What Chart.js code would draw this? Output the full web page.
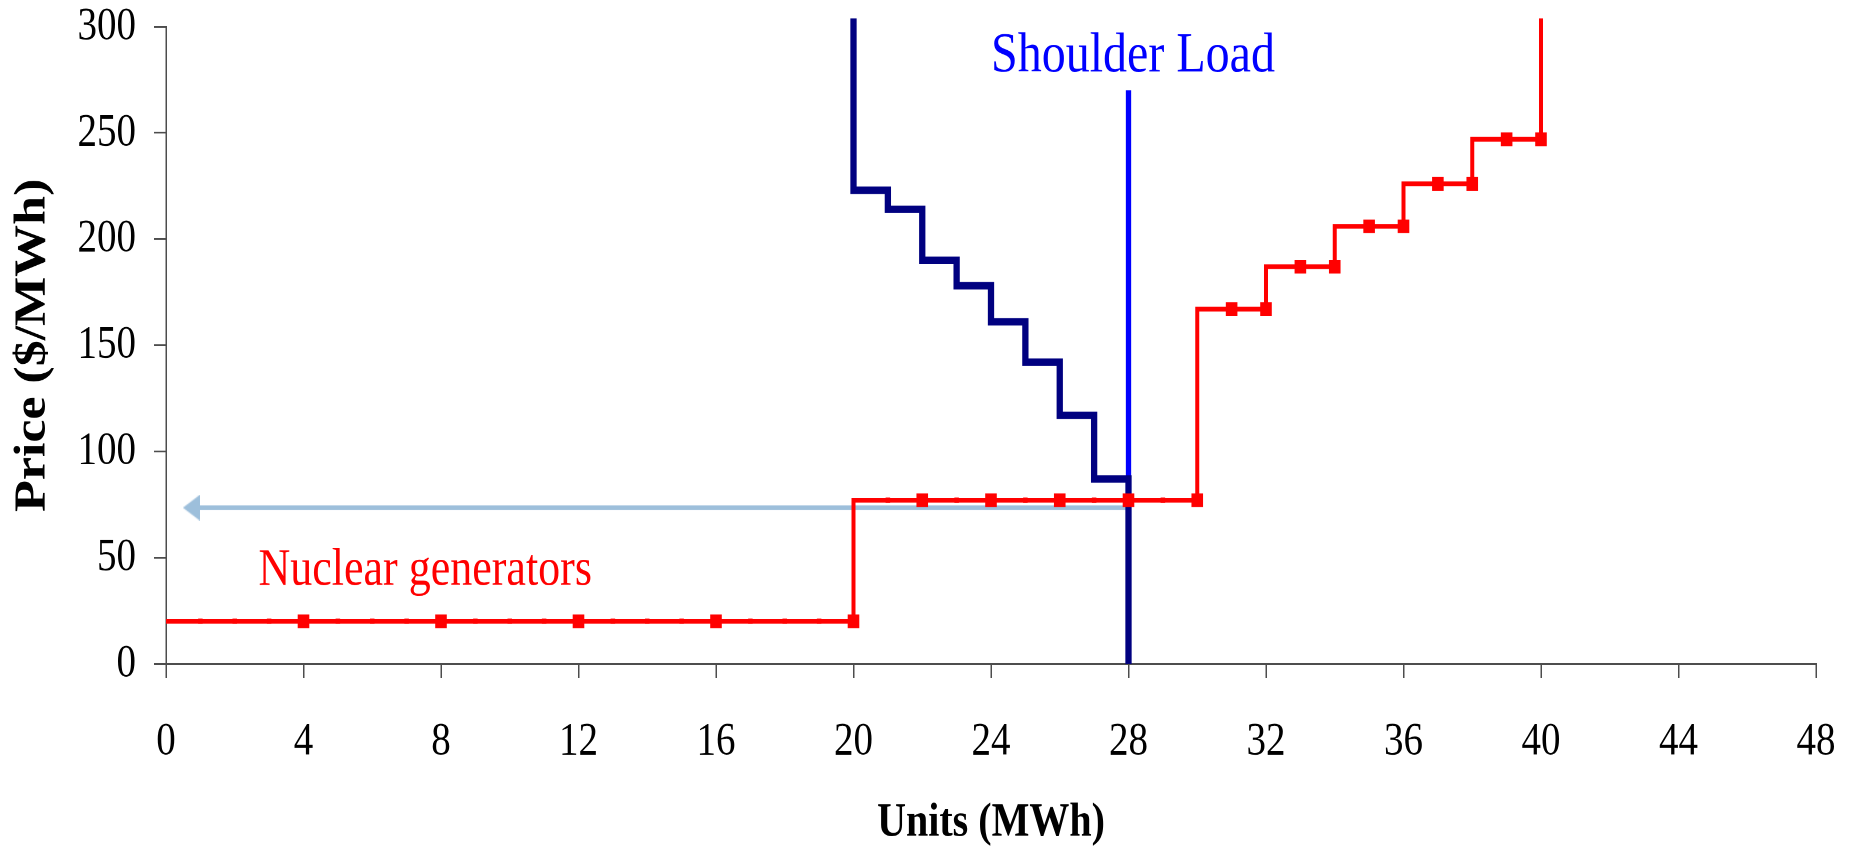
<!DOCTYPE html>
<html>
<head>
<meta charset="utf-8">
<title>Shoulder load dispatch</title>
<script src="https://cdn.jsdelivr.net/npm/chart.js@4.4.1/dist/chart.umd.min.js"></script>
<style>
  html, body { margin: 0; padding: 0; background: #fff; width: 1852px; height: 848px; overflow: hidden; }
  #page { position: relative; width: 1852px; height: 848px; overflow: hidden; }
  /* the reference picture is stretched vertically, so draw 718 high and scale to 848 */
  #wrap { position: absolute; left: 0; top: 0; width: 1852px; height: 718px; transform: scaleY(1.18106); transform-origin: 0 0; }
</style>
</head>
<body>
<div id="page"><div id="wrap"><canvas id="chart"></canvas></div></div>
<script>
// axis ticks
const xTicks = [0, 4, 8, 12, 16, 20, 24, 28, 32, 36, 40, 44, 48];
const yTicks = [0, 50, 100, 150, 200, 250, 300];

// supply curve (red), one point per MWh, last point runs off the top
const supplyUnits = [0, 1, 2, 3, 4, 5, 6, 7, 8, 9, 10, 11, 12, 13, 14, 15, 16, 17, 18, 19, 20,
  21, 22, 23, 24, 25, 26, 27, 28, 29, 30, 31, 32, 33, 34, 35, 36, 37, 38, 39, 40, 40];
const supplyPrice = [20, 20, 20, 20, 20, 20, 20, 20, 20, 20, 20, 20, 20, 20, 20, 20, 20, 20, 20, 20, 20,
  77, 77, 77, 77, 77, 77, 77, 77, 77, 77, 167, 167, 187, 187, 206, 206, 226, 226, 247, 247, 400];
// units that carry a square marker (the rest only show a small dot)
const supplyMarked = [4, 8, 12, 16, 20, 22, 24, 26, 28, 30, 31, 32, 33, 34, 35, 36, 37, 38, 39, 40];

// demand bids (navy), first point is off the top
const demandUnits = [20, 21, 22, 23, 24, 25, 26, 27, 28, 28];
const demandPrice = [400, 223, 214, 190, 178, 161, 142, 117, 87, 0];

// shoulder load line and the price arrow
const shoulderUnits = [28, 28];
const shoulderPrice = [0, 270];
const arrowUnits = [0.74, 28];
const arrowPrice = [73.5, 73.5];

const FONT = '"Liberation Serif", "Times New Roman", serif';
const AXIS = '#4d4d4d';
const RED = '#ff0000';
const NAVY = '#000080';
const BLUE = '#0000ff';
const ARROW = '#9dbfdb';

const notes = [
  { text: 'Shoulder Load', x: 24.0, y: 279, color: BLUE, size: 48 },
  { text: 'Nuclear generators', x: 2.69, y: 37.3, color: RED, size: 44 }
];

function pts(xs, ys) {
  return xs.map((v, i) => ({ x: v, y: ys[i] }));
}

// left-pointing arrow head used as point style
function arrowHead() {
  const c = document.createElement('canvas');
  c.width = 17; c.height = 22;
  const g = c.getContext('2d');
  g.fillStyle = ARROW;
  g.beginPath();
  g.moveTo(0, 11);
  g.lineTo(17, 0);
  g.lineTo(17, 22);
  g.closePath();
  g.fill();
  return c;
}

const textLabels = {
  id: 'textLabels',
  afterDatasetsDraw(chart) {
    const { ctx, scales: { x, y } } = chart;
    ctx.save();
    notes.forEach(n => {
      ctx.font = n.size + 'px ' + FONT;
      ctx.fillStyle = n.color;
      ctx.textAlign = 'left';
      ctx.textBaseline = 'alphabetic';
      ctx.fillText(n.text, x.getPixelForValue(n.x), y.getPixelForValue(n.y));
    });
    ctx.restore();
  }
};

const clip = { left: 8, top: 7, right: 8, bottom: 8 };
const axisGrid = { drawOnChartArea: false, drawTicks: true, tickLength: 12, color: AXIS, lineWidth: 1.5 };

new Chart(document.getElementById('chart'), {
  type: 'line',
  data: {
    datasets: [
      {
        label: 'Nuclear generators',
        data: pts(supplyUnits, supplyPrice),
        stepped: 'after',
        borderColor: RED,
        backgroundColor: RED,
        borderWidth: 4,
        borderJoinStyle: 'miter',
        pointStyle: 'rect',
        pointBorderWidth: 0,
        pointRadius: c => {
          const i = c.dataIndex;
          if (i === 0 || i === supplyUnits.length - 1) return 0;
          return supplyMarked.includes(supplyUnits[i]) ? 8.2 : 3.2;
        },
        clip
      },
      {
        label: 'Demand',
        data: pts(demandUnits, demandPrice),
        stepped: 'after',
        borderColor: NAVY,
        borderWidth: 6.3,
        borderJoinStyle: 'miter',
        pointRadius: 0,
        clip
      },
      {
        label: 'Shoulder Load',
        data: pts(shoulderUnits, shoulderPrice),
        borderColor: BLUE,
        borderWidth: 5.3,
        pointRadius: 0,
        clip
      },
      {
        label: 'Price',
        data: pts(arrowUnits, arrowPrice),
        borderColor: ARROW,
        borderWidth: 4,
        pointStyle: [arrowHead(), false],
        pointRadius: [8, 0],
        clip
      }
    ]
  },
  options: {
    responsive: true,
    maintainAspectRatio: false,
    animation: false,
    devicePixelRatio: 2,
    events: [],
    layout: { padding: { top: 22.6, right: 36, bottom: 0, left: 0 } },
    plugins: { legend: { display: false }, tooltip: { enabled: false } },
    scales: {
      x: {
        type: 'linear',
        min: 0,
        max: 48,
        afterBuildTicks: s => { s.ticks = xTicks.map(v => ({ value: v })); },
        afterFit: s => { s.height = 156; s.paddingLeft = 0; s.paddingRight = 0; },
        grid: axisGrid,
        border: { color: AXIS, width: 1.5 },
        ticks: { color: '#000', font: { family: FONT, size: 39 }, padding: 31, maxRotation: 0, autoSkip: false },
        title: {
          display: true, text: 'Units (MWh)', color: '#000',
          font: { family: FONT, size: 40, weight: 'bold', lineHeight: 1 },
          padding: { top: 0, bottom: 1 }
        }
      },
      y: {
        type: 'linear',
        min: 0,
        max: 300,
        afterBuildTicks: s => { s.ticks = yTicks.map(v => ({ value: v })); },
        afterFit: s => { s.width = 166; s.paddingTop = 0; s.paddingBottom = 0; },
        grid: axisGrid,
        border: { color: AXIS, width: 1.5 },
        ticks: { color: '#000', font: { family: FONT, size: 39 }, padding: 18 },
        title: {
          display: true, text: 'Price ($/MWh)', color: '#000',
          font: { family: FONT, size: 44, weight: 'bold', lineHeight: 1 },
          padding: { top: 11, bottom: 0 }
        }
      }
    }
  },
  plugins: [textLabels]
});
</script>
</body>
</html>
